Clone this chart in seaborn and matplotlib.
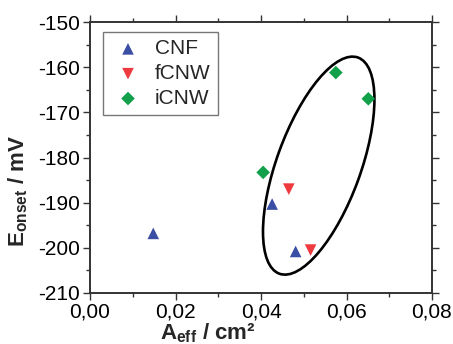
import matplotlib
matplotlib.use("Agg")
import matplotlib.pyplot as plt
import matplotlib.transforms as mtransforms
from matplotlib.patches import Ellipse
from matplotlib.ticker import MultipleLocator, FuncFormatter
import seaborn as sns
import pandas as pd

# ---- data ----
cnf_x = [0.0148, 0.0426, 0.0481]
cnf_y = [-196.8, -190.3, -200.8]
fcnw_x = [0.0465, 0.0516]
fcnw_y = [-187.0, -200.5]
icnw_x = [0.0405, 0.0575, 0.0651]
icnw_y = [-183.3, -161.2, -167.0]
series = ["CNF", "fCNW", "iCNW"]
colors = {"CNF": "#3a4ea3", "fCNW": "#ee3a3f", "iCNW": "#12a04a"}
markers = {"CNF": "^", "fCNW": "v", "iCNW": "D"}
x_ticks = [0.00, 0.02, 0.04, 0.06, 0.08]
y_ticks = [-150, -160, -170, -180, -190, -200, -210]

df = pd.DataFrame({
    "x": cnf_x + fcnw_x + icnw_x,
    "y": cnf_y + fcnw_y + icnw_y,
    "s": ["CNF"] * len(cnf_x) + ["fCNW"] * len(fcnw_x) + ["iCNW"] * len(icnw_x),
})

sns.set_style("ticks")
plt.rcParams["font.family"] = ["Liberation Sans", "DejaVu Sans"]
plt.rcParams["axes.unicode_minus"] = False
plt.rcParams["mathtext.fontset"] = "custom"
plt.rcParams["mathtext.rm"] = "Liberation Sans"
plt.rcParams["mathtext.bf"] = "Liberation Sans:bold"

fig = plt.figure(figsize=(4.53, 3.44), dpi=100)
ax = fig.add_axes([90 / 453, 51 / 344, 342 / 453, 271 / 344])

for name in series:
    sub = df[df.s == name]
    sns.scatterplot(data=sub, x="x", y="y", marker=markers[name], color=colors[name],
                    s=70 if name != "iCNW" else 48, edgecolor="none", ax=ax, label=name,
                    zorder=3)

ax.set_xlim(0, 0.08)
ax.set_ylim(-210, -150)
ax.set_xticks(x_ticks)
ax.set_yticks(y_ticks)
ax.xaxis.set_minor_locator(MultipleLocator(0.01))
ax.yaxis.set_minor_locator(MultipleLocator(5))
ax.xaxis.set_major_formatter(FuncFormatter(lambda v, p: f"{v:.2f}".replace(".", ",")))
ax.yaxis.set_major_formatter(FuncFormatter(lambda v, p: f"{v:.0f}"))
ax.tick_params(which="both", direction="out", top=True, right=True, colors="#333333",
               labelcolor="black", labelsize=15, width=1.0, pad=2)
ax.tick_params(which="major", length=5)
ax.tick_params(which="minor", length=3)
for sp in ax.spines.values():
    sp.set_visible(True)
    sp.set_linewidth(1.4)
    sp.set_color("#333333")

# ellipse annotation (pixel-scaled)
sx = 0.08 / 342
sy = 60 / 271
ell = Ellipse((0, 0), 2 * 115, 2 * 42, angle=70, fill=False, edgecolor="black", lw=1.9,
              transform=mtransforms.Affine2D().scale(sx, sy).translate(0.0535, -181.8) + ax.transData,
              zorder=2)
ax.add_patch(ell)

ax.set_xlabel(r"$\mathbf{A_{eff}}$ / cm²", fontsize=16, fontweight="bold")
ax.set_ylabel(r"$\mathbf{E_{onset}}$ / mV", fontsize=16, fontweight="bold")
ax.xaxis.set_label_coords(0.345, -0.105)
ax.yaxis.set_label_coords(-0.175, 0.376)

leg = ax.legend(loc="upper left", bbox_to_anchor=(0.038, 0.963), borderaxespad=0,
                frameon=True, fancybox=False, fontsize=15, handletextpad=0.45,
                borderpad=0.35, labelspacing=0.28, handlelength=1.7, markerscale=1.0)
leg.get_frame().set_edgecolor("#555555")
leg.get_frame().set_linewidth(1.0)

fig.savefig("out.png", dpi=100)
